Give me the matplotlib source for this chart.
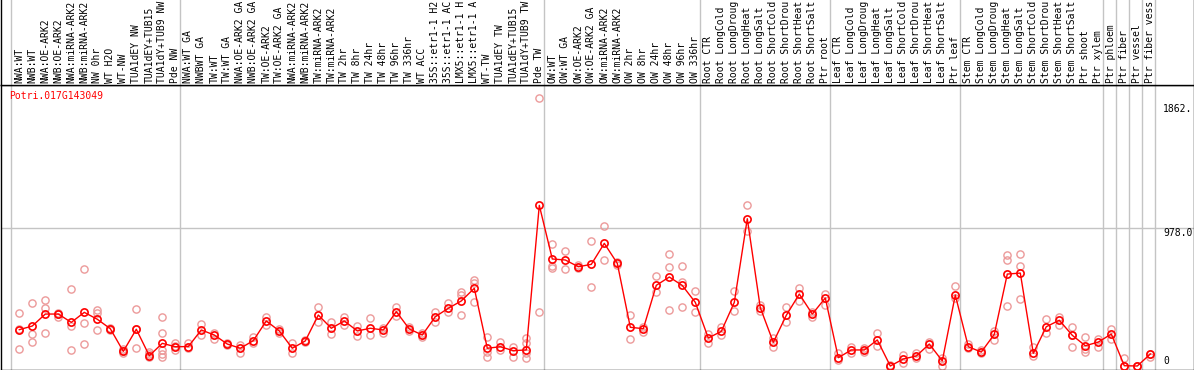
import matplotlib
matplotlib.use("Agg")
import matplotlib.pyplot as plt
from matplotlib.transforms import blended_transform_factory

gene = "Potri.017G143049"

labels = [
    "NWA:WT", "NWB:WT", "NWA:OE-ARK2", "NWB:OE-ARK2", "NWA:miRNA-ARK2", "NWB:miRNA-ARK2",
    "NW 0hr", "WT H2O", "WT-NW", "TUA1dEY NW", "TUA1dEY+TUB15", "TUA1dY+TUB9 NW", "Pde NW",
    "NWA:WT GA", "NWBWT GA", "TW:WT", "TW:WT GA", "NWA:OE-ARK2 GA", "NWB:OE-ARK2 GA",
    "TW:OE-ARK2", "TW:OE-ARK2 GA", "NWA:miRNA-ARK2", "NWB:miRNA-ARK2", "TW:miRNA-ARK2",
    "TW:miRNA-ARK2", "TW 2hr", "TW 8hr", "TW 24hr", "TW 48hr", "TW 96hr", "TW 336hr",
    "WT ACC", "35S::etr1-1 H2", "35S::etr1-1 AC", "LMX5::etr1-1 H", "LMX5::etr1-1 A",
    "WT-TW", "TUA1dEY TW", "TUA1dEY+TUB15", "TUA1dY+TUB9 TW", "Pde TW",
    "OW:WT", "OW:WT GA", "OW:OE-ARK2", "OW:OE-ARK2 GA", "OW:miRNA-ARK2", "OW:miRNA-ARK2",
    "OW 2hr", "OW 8hr", "OW 24hr", "OW 48hr", "OW 96hr", "OW 336hr",
    "Root CTR", "Root LongCold", "Root LongDroug", "Root LongHeat", "Root LongSalt",
    "Root ShortCold", "Root ShortDrou", "Root ShortHeat", "Root ShortSalt", "Ptr root",
    "Leaf CTR", "Leaf LongCold", "Leaf LongDroug", "Leaf LongHeat", "Leaf LongSalt",
    "Leaf ShortCold", "Leaf ShortDrou", "Leaf ShortHeat", "Leaf ShortSalt", "Ptr leaf",
    "Stem CTR", "Stem LongCold", "Stem LongDroug", "Stem LongHeat", "Stem LongSalt",
    "Stem ShortCold", "Stem ShortDrou", "Stem ShortHeat", "Stem ShortSalt", "Ptr shoot",
    "Ptr xylem", "Ptr phloem", "Ptr fiber", "Ptr vessel", "Ptr fiber vess",
]

group_sizes = [13, 28, 12, 10, 10, 11, 1, 1, 1, 1]

means = [
    258, 284, 369, 369, 310, 381, 332, 265, 104, 261, 73, 161, 137,
    138, 256, 220, 156, 126, 180, 320, 249, 126, 178, 362, 268, 320, 249, 268, 256,
    386, 263, 220, 350, 410, 462, 552, 126, 137, 109, 114, 1141,
    760, 753, 705, 722, 871, 729, 275, 265, 573, 632, 572, 452,
    199, 246, 452, 1046, 414, 168, 360, 511, 369, 483,
    59, 114, 114, 185, 0, 50, 71, 156, 36, 504,
    137, 99, 225, 653, 660, 90, 279, 325, 218, 144, 170,
    227, 2, 0, 85,
]

reps = [
    [374, 263, 121], [445, 227, 170], [469, 410, 234], [374, 350, 369],
    [545, 284, 114], [687, 303, 156], [398, 374, 256], [270, 263, 256],
    [121, 109, 94], [403, 261, 126], [102, 83, 62], [346, 232, 114, 83, 62],
    [161, 142, 114],
    [161, 126], [296, 218], [237, 190], [165, 147], [151, 90], [204, 161],
    [346, 289], [261, 237], [161, 94], [185, 170], [421, 315], [310, 225],
    [350, 289], [284, 213], [339, 220], [268, 237], [421, 355], [275, 249],
    [232, 204], [386, 315], [445, 386], [528, 504, 362], [611, 592, 457],
    [204, 101, 66], [173, 114], [133, 66], [197, 161, 90, 55], [1901, 384],
    [866, 710, 694], [817, 689], [717, 694], [888, 561], [992, 753], [738, 717],
    [362, 190], [279, 239], [637, 528], [793, 705, 396], [708, 594, 417],
    [533, 384],
    [227, 161], [275, 220], [535, 391], [1143, 961], [433, 393], [197, 137],
    [419, 315], [554, 464], [386, 350], [511, 433],
    [90, 43], [137, 90], [126, 102], [232, 142], [0, 5], [78, 19], [90, 55],
    [173, 119], [55, 0], [568, 481],
    [156, 128], [114, 90], [251, 185], [788, 753, 426], [795, 710, 474],
    [133, 71], [336, 232], [346, 291], [275, 220, 133], [208, 119, 102],
    [192, 133],
    [261, 190], [55, 0], [0, 0], [85, 64],
]

tick_values = [1862, 978.0, 0]
tick_texts = ["1862.", "978.0", "0"]

# ---------------------------------------------------------------- layout
W, H = 1194, 370
fig = plt.figure(figsize=(W / 100, H / 100), dpi=100)
mono = "DejaVu Sans Mono"
grey = "#c4c4c4"
red = "#ff0000"
pink = "#ec9a9a"

top_px = 85.0
bot_px = 369.5
ax = fig.add_axes([0.5 / W, (H - bot_px) / H, (W - 1.0) / W, (bot_px - top_px) / H])
axl = fig.add_axes([0.5 / W, (H - top_px) / H, (W - 1.0) / W, top_px / H], sharex=ax)

# x: column i at pixel 19.3 + 13*i ; y: value 0 at pixel 366, 978 at pixel 228.3
px_per_col = 13.0
x0_px = 19.3
left_px, right_px = 0.5, W - 0.5
ax.set_xlim((left_px - x0_px) / px_per_col, (right_px - x0_px) / px_per_col)
ppu = (366.0 - 228.3) / 978.0
ax.set_ylim(-(bot_px - 366.0) / ppu, (366.0 - top_px) / ppu)
axl.set_ylim(0, 1)

for a in (ax, axl):
    a.set_xticks([])
    a.set_yticks([])
    for s in a.spines.values():
        s.set_color("black")
        s.set_linewidth(1.0)
axl.spines["top"].set_visible(False)

# group separators
starts = []
c = 0
for g in group_sizes:
    starts.append(c)
    c += g
starts.append(c)
for s in starts:
    for a in (ax, axl):
        a.axvline(s - 0.62, color=grey, lw=1.0, zorder=1)

# gridline
ax.axhline(tick_values[1], color=grey, lw=1.0, zorder=1)

n = len(means)
xs = list(range(n))

# replicate points
for i, r in enumerate(reps):
    ax.plot([i] * len(r), r, linestyle="none", marker="o", ms=5.2,
            mfc="none", mec=pink, mew=1.0, zorder=2)

ax.plot(xs, means, color=red, lw=1.0, zorder=3)
ax.plot(xs, means, linestyle="none", marker="o", ms=5.2, mfc="none",
        mec=red, mew=1.2, zorder=4)

# sample labels
trl = blended_transform_factory(axl.transData, axl.transAxes)
for i, lab in enumerate(labels):
    axl.text(i, 0.028, lab, rotation=90, ha="center", va="bottom",
             fontsize=7, family=mono, color="black", transform=trl, clip_on=False)

# gene name
ax.text(9.5 / W * 0 + (9.5 - x0_px) / px_per_col, 1 - 11.0 / (bot_px - top_px), gene,
        transform=blended_transform_factory(ax.transData, ax.transAxes),
        ha="left", va="center", fontsize=7, family=mono, color=red)

# y tick labels on the right
tx = (1163.0 - x0_px) / px_per_col
ax.text(tx, tick_values[0], tick_texts[0], ha="left", va="top", fontsize=7, family=mono)
ax.text(tx, tick_values[1], tick_texts[1], ha="left", va="top", fontsize=7, family=mono,
        clip_on=True)
ax.text(tx, tick_values[2], tick_texts[2], ha="left", va="bottom", fontsize=7, family=mono)

fig.savefig("out.png", dpi=100)
